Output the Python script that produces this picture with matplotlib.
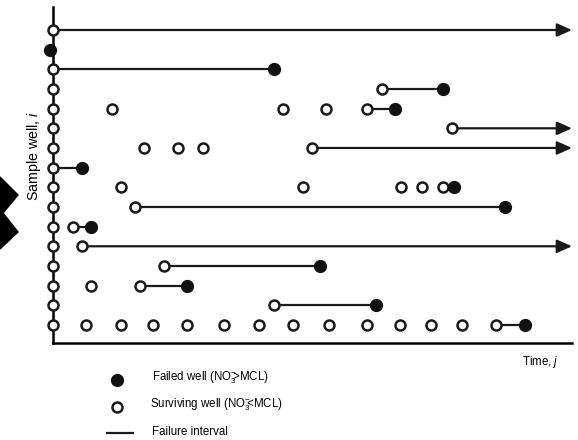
import matplotlib
matplotlib.use('Agg')
import matplotlib.pyplot as plt
from matplotlib.patches import Polygon

plt.rcParams['font.family'] = ['Liberation Sans Narrow', 'Liberation Sans', 'DejaVu Sans']
plt.rcParams['mathtext.fontset'] = 'custom'
plt.rcParams['mathtext.rm'] = 'Liberation Sans'
plt.rcParams['mathtext.it'] = 'Liberation Sans:italic'

# sample wells, top of the chart first
wells = list(range(16, 0, -1))

# times of surviving observations (open circles)
surviving = [
    [0],
    [],
    [0],
    [0, 33.0],
    [0, 5.9, 23.0, 27.4, 31.5],
    [0, 40.0],
    [0, 9.1, 12.5, 15.0, 25.9],
    [0],
    [0, 6.8, 25.0, 34.9, 37.0, 39.1],
    [0, 8.2],
    [0, 2.0],
    [0, 2.9],
    [0, 11.1],
    [0, 3.8, 8.7],
    [0, 22.1],
    [0, 3.3, 6.8, 10.0, 13.4, 17.1, 20.6, 24.0, 27.7, 31.5, 34.8, 37.9, 41.0, 44.4],
]
# time of failure (filled circle), None = still surviving at end
failed = [None, -0.3, 22.1, 39.1, 34.3, None, None, 2.9, 40.2, 45.3, 3.8, None, 26.8, 13.4, 32.4, 47.3]
# start of failure interval, None = no interval
interval_start = [0, None, 0, 33.0, 31.5, 40.0, 25.9, 0, 39.1, 8.2, 2.0, 2.9, 11.1, 8.7, 22.1, 44.4]

t_end = 52.0

fig = plt.figure(figsize=(5.78, 4.4), dpi=100)
ax = fig.add_axes([53/578, 1-343/440, (572-53)/578, (343-7)/440])
ax.set_xlim(0, t_end)
ax.set_ylim(0.08, 17.17)

lw = 1.6
for k, w in enumerate(wells):
    s = interval_start[k]
    f = failed[k]
    if s is not None:
        if f is None:
            ax.annotate('', xy=(t_end, w), xytext=(s, w), annotation_clip=False,
                        arrowprops=dict(arrowstyle='-|>,head_length=0.9,head_width=0.4',
                                        color='#1a1a1a', lw=lw, shrinkA=0, shrinkB=0))
        else:
            ax.plot([s, f], [w, w], color='#1a1a1a', lw=lw, zorder=2)
    if surviving[k]:
        ax.plot(surviving[k], [w]*len(surviving[k]), 'o', ms=7.2, mfc='white',
                mec='#1a1a1a', mew=1.8, zorder=4, clip_on=False)
    if f is not None:
        ax.plot([f], [w], 'o', ms=8.5, color='#111111', zorder=5, clip_on=False)

for side in ['top', 'right']:
    ax.spines[side].set_visible(False)
ax.spines['left'].set_linewidth(1.8)
ax.spines['bottom'].set_linewidth(1.8)
ax.spines['left'].set_zorder(1)
ax.set_xticks([])
ax.set_yticks([])

fig.text(34/578, 1-156/440, r'Sample well, $i$', rotation=90, ha='center', va='center', fontsize=10.3)
fig.text(540/578, 1-362/440, r'Time, $j$', ha='center', va='center', fontsize=8.3)

# legend
fig.lines.append(plt.Line2D([117/578], [1-380/440], marker='o', ms=8.5, color='#111111',
                            transform=fig.transFigure))
fig.lines.append(plt.Line2D([117/578], [1-407/440], marker='o', ms=7.2, mfc='white',
                            mec='#1a1a1a', mew=1.8, transform=fig.transFigure))
fig.lines.append(plt.Line2D([107/578, 133/578], [1-433/440, 1-433/440], color='#1a1a1a',
                            lw=lw, transform=fig.transFigure))
fig.text(152/578, 1-378/440, r'Failed well (NO$_3^{-}\!\!$>MCL)', va='center', fontsize=8.3)
fig.text(150/578, 1-405/440, r'Surviving well (NO$_3^{-}\!\!$<MCL)', va='center', fontsize=8.3)
fig.text(152/578, 1-432/440, 'Failure interval', va='center', fontsize=8.3)

# black chevron at the left edge of the screenshot
pts = [(0, 177), (18, 195), (3, 213), (18, 232), (0, 249)]
fig.patches.append(Polygon([(x/578, 1-y/440) for x, y in pts], closed=True,
                           color='black', transform=fig.transFigure))

fig.savefig('out.png', dpi=100)
